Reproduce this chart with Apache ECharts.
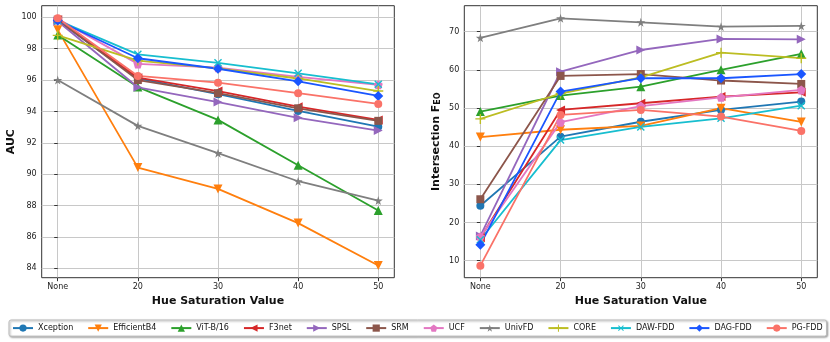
<!DOCTYPE html>
<html>
<head>
<meta charset="utf-8">
<script src="https://cdn.jsdelivr.net/npm/echarts@6/dist/echarts.min.js"></script>
<style>
html,body{margin:0;padding:0;background:#fff;}
#c{width:830px;height:342px;}
</style>
</head>
<body>
<div id="c"></div>
<script>
const xLabels = ['None', '20', '30', '40', '50'];
const xIdx = [0, 1, 2, 3, 4];
const methods = ['Xception', 'EfficientB4', 'ViT-B/16', 'F3net', 'SPSL', 'SRM', 'UCF', 'UnivFD', 'CORE', 'DAW-FDD', 'DAG-FDD', 'PG-FDD'];

const aucXception   = [99.80, 96.10, 95.10, 94.03, 93.03];
const aucEfficient  = [99.20, 90.42, 89.06, 86.88, 84.18];
const aucViT        = [98.87, 95.55, 93.46, 90.57, 87.68];
const aucF3net      = [99.85, 96.15, 95.30, 94.30, 93.46];
const aucSPSL       = [99.75, 95.54, 94.60, 93.59, 92.78];
const aucSRM        = [99.85, 96.00, 95.16, 94.20, 93.40];
const aucUCF        = [99.90, 97.03, 96.79, 96.20, 95.70];
const aucUnivFD     = [96.00, 93.08, 91.34, 89.55, 88.32];
const aucCORE       = [98.85, 97.24, 96.75, 96.10, 95.30];
const aucDAW        = [99.80, 97.64, 97.10, 96.43, 95.73];
const aucDAG        = [99.80, 97.39, 96.72, 95.92, 94.99];
const aucPG         = [99.94, 96.26, 95.83, 95.16, 94.48];

const feoXception   = [24.4, 42.5, 46.4, 49.5, 51.7];
const feoEfficient  = [42.4, 44.3, 45.3, 49.95, 46.35];
const feoViT        = [49.06, 53.25, 55.6, 60.0, 64.2];
const feoF3net      = [16.0, 49.5, 51.25, 53.0, 54.1];
const feoSPSL       = [16.5, 59.5, 65.2, 68.1, 68.0];
const feoSRM        = [26.1, 58.4, 58.9, 57.2, 56.3];
const feoUCF        = [16.3, 46.3, 50.5, 52.8, 54.75];
const feoUnivFD     = [68.4, 73.5, 72.45, 71.3, 71.5];
const feoCORE       = [47.15, 53.8, 58.0, 64.5, 63.05];
const feoDAW        = [15.5, 41.6, 45.05, 47.3, 50.6];
const feoDAG        = [14.2, 54.3, 57.8, 57.8, 58.9];
const feoPG         = [8.7, 48.2, 49.5, 47.75, 44.0];

const aucTicks = [84, 86, 88, 90, 92, 94, 96, 98, 100];
const feoTicks = [10, 20, 30, 40, 50, 60, 70];

const aucData = [aucXception, aucEfficient, aucViT, aucF3net, aucSPSL, aucSRM, aucUCF, aucUnivFD, aucCORE, aucDAW, aucDAG, aucPG];
const feoData = [feoXception, feoEfficient, feoViT, feoF3net, feoSPSL, feoSRM, feoUCF, feoUnivFD, feoCORE, feoDAW, feoDAG, feoPG];

const colors = ['#1f77b4', '#ff7f0e', '#2ca02c', '#d62728', '#9467bd', '#8c564b', '#e377c2', '#7f7f7f', '#bcbd22', '#17becf', '#1a56ff', '#fa7268'];
const STAR = 'path://M50,0 L61,35 L98,35 L68,57 L79,91 L50,70 L21,91 L32,57 L2,35 L39,35 Z';
const PLUS = 'path://M43,0 H57 V43 H100 V57 H57 V100 H43 V57 H0 V43 H43 Z';
const PENT = 'path://M50,0 L97.6,34.5 L79.4,90.5 L20.6,90.5 L2.4,34.5 Z';
const symbols = [
  {s: 'circle', r: 0, z: 8},
  {s: 'triangle', r: 180, z: 9},
  {s: 'triangle', r: 0, z: 9},
  {s: 'triangle', r: 90, z: 9},
  {s: 'triangle', r: -90, z: 9},
  {s: 'rect', r: 0, z: 8},
  {s: PENT, r: 0, z: 9},
  {s: STAR, r: 0, z: 9},
  {s: PLUS, r: 0, z: 10},
  {s: PLUS, r: 45, z: 10},
  {s: 'diamond', r: 0, z: 10},
  {s: 'circle', r: 0, z: 8}
];

const FONT = 'DejaVu Sans';
const gridLine = {show: true, lineStyle: {color: '#c8c8c8', width: 1}};

function xAxis(gi) {
  return {
    type: 'value', gridIndex: gi, min: -0.2, max: 4.2,
    name: 'Hue Saturation Value', nameLocation: 'middle', nameGap: 16,
    nameTextStyle: {fontFamily: FONT, fontWeight: 'bold', fontSize: 11, color: '#111'},
    axisLine: {show: false},
    axisTick: {show: true, length: 3.5, customValues: xIdx, lineStyle: {color: '#333'}},
    axisLabel: {customValues: xIdx, fontFamily: FONT, fontSize: 8, color: '#222', margin: 5,
      formatter: v => xLabels[Math.round(v)]},
    splitLine: gridLine
  };
}
function yAxis(gi, min, max, ticks, name, rich) {
  return {
    type: 'value', gridIndex: gi, min: min, max: max,
    name: name, nameLocation: 'middle', nameGap: gi === 0 ? 25 : 22,
    nameTextStyle: Object.assign({fontFamily: FONT, fontWeight: 'bold', fontSize: 11, color: '#111'}, rich ? {rich: rich} : {}),
    axisLine: {show: false},
    axisTick: {show: true, length: 3.5, customValues: ticks, lineStyle: {color: '#333'}},
    axisLabel: {customValues: ticks, fontFamily: FONT, fontSize: 8, color: '#222', margin: 5},
    splitLine: gridLine
  };
}

const series = [];
[aucData, feoData].forEach((set, gi) => {
  set.forEach((vals, i) => {
    series.push({
      type: 'line', name: methods[i], xAxisIndex: gi, yAxisIndex: gi,
      data: xIdx.map((x, k) => [x, vals[k]]),
      symbol: symbols[i].s, symbolRotate: symbols[i].r, symbolSize: symbols[i].z,
      showAllSymbol: true,
      lineStyle: {width: 1.8, color: colors[i]},
      itemStyle: {color: colors[i]},
      color: colors[i],
      emphasis: {disabled: true},
      animation: false
    });
  });
});

const chart = echarts.init(document.getElementById('c'), null, {renderer: 'canvas'});
chart.setOption({
  animation: false,
  color: colors,
  grid: [
    {left: 41.7, right: 435.7, top: 5.7, bottom: 64.3, show: true, borderColor: '#333', borderWidth: 1},
    {left: 464.3, right: 12.7, top: 5.7, bottom: 64.3, show: true, borderColor: '#333', borderWidth: 1}
  ],
  xAxis: [xAxis(0), xAxis(1)],
  yAxis: [
    yAxis(0, 83.4, 100.74, aucTicks, 'AUC'),
    yAxis(1, 5.55, 76.8, feoTicks, 'Intersection F{sub|EO}', {
      sub: {fontFamily: FONT, fontWeight: 'bold', fontSize: 8, color: '#111', padding: [5, 0, 0, 0]}
    })
  ],
  legend: {
    data: methods, left: 9, top: 320, width: 818, orient: 'horizontal',
    itemWidth: 20, itemHeight: 9, itemGap: 14,
    padding: [3, 4, 3, 3],
    borderColor: '#bbb', borderWidth: 1, borderRadius: 2,
    backgroundColor: '#fff',
    shadowColor: 'rgba(0,0,0,0.35)', shadowBlur: 2, shadowOffsetX: 1, shadowOffsetY: 1,
    textStyle: {fontFamily: FONT, fontSize: 8, color: '#111'},
    symbolRotate: 'inherit'
  },
  series: series
});
</script>
</body>
</html>
